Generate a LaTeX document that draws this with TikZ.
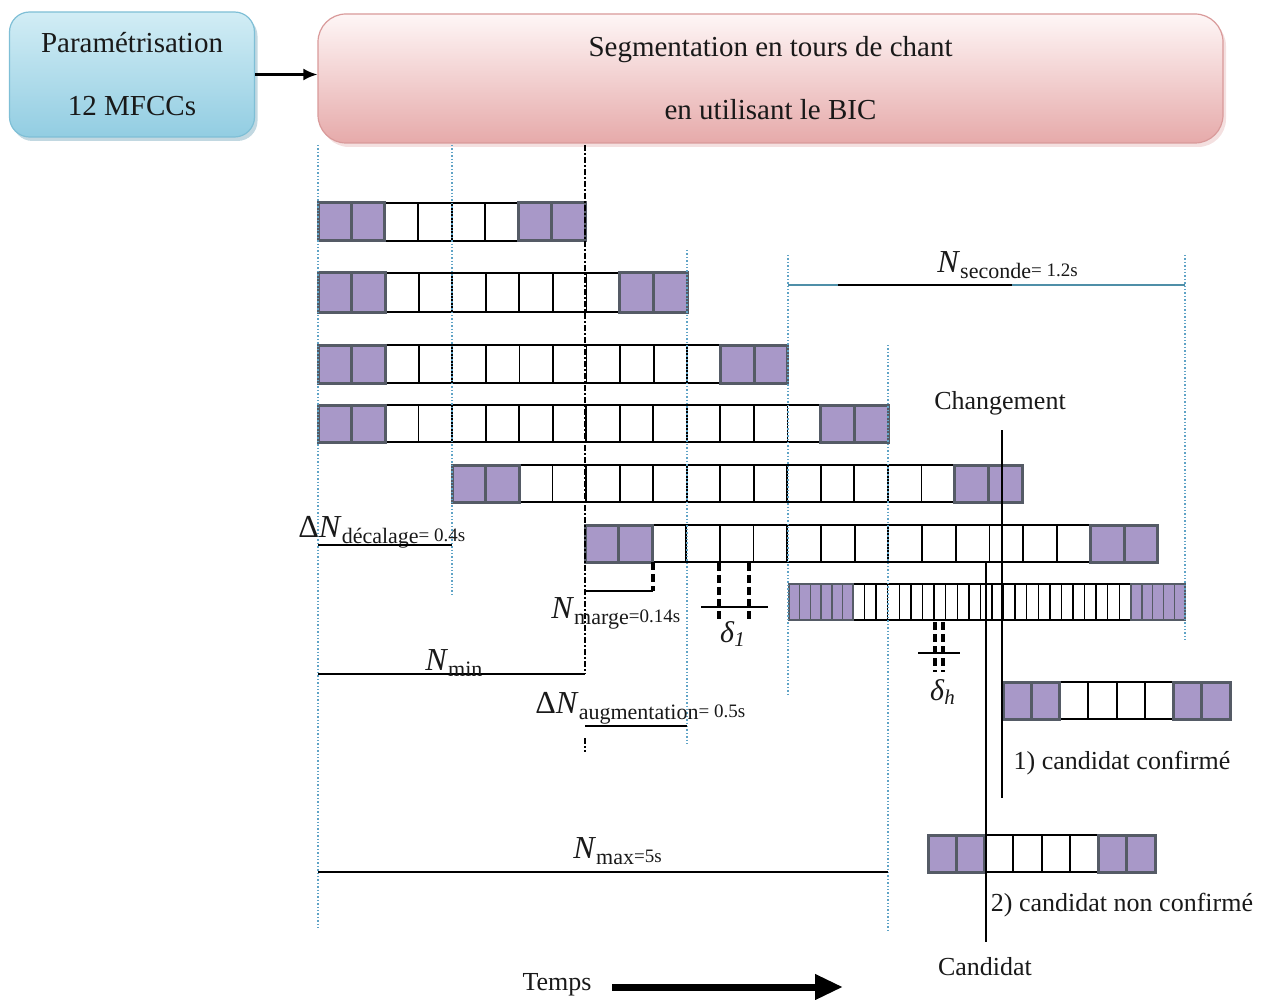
\documentclass[tikz,border=0pt]{standalone}
\usepackage{fontspec}
\setmainfont{Liberation Serif}
\usetikzlibrary{shadows,arrows.meta}
\definecolor{cellpurple}{HTML}{A898C8}
\definecolor{cellgrey}{HTML}{555B66}
\definecolor{guideblue}{HTML}{5FA3C6}
\definecolor{parTop}{HTML}{D2EDF5}
\definecolor{parBot}{HTML}{92CDE2}
\definecolor{parEdge}{HTML}{7FBFD6}
\definecolor{segTop}{HTML}{FEF6F6}
\definecolor{segBot}{HTML}{E6AAAA}
\definecolor{segEdge}{HTML}{D99A9A}
\definecolor{tealline}{HTML}{4F8FA8}
\newcommand{\cellrow}[5]{% x0, ytop, ybot, width, n white
  \pgfmathtruncatemacro{\lastw}{#5+1}
  \pgfmathtruncatemacro{\pa}{#5+2}
  \pgfmathtruncatemacro{\pb}{#5+3}
  \foreach \i in {2,...,\lastw}
    \draw[wcell] ({#1+\i*#4},#2) rectangle ({#1+(\i+1)*#4},#3);
  \foreach \i in {0,1,\pa,\pb}
    \draw[purp] ({#1+\i*#4},#2) rectangle ({#1+(\i+1)*#4},#3);
}
\newcommand{\Nlab}[3]{{\fontsize{16}{16}\selectfont #1}\raisebox{-3pt}{\fontsize{11}{11}\selectfont #2}\raisebox{-2pt}{\fontsize{9.5}{10}\selectfont #3}}
\begin{document}
\begin{tikzpicture}[x=0.5pt,y=-0.5pt,
  purp/.style={fill=cellpurple,draw=cellgrey,line width=1.5pt},
  wcell/.style={fill=white,draw=black,line width=0.9pt},
  guide/.style={draw=guideblue,line width=0.7pt,densely dotted},
  darkguide/.style={draw=black,line width=0.8pt,dash pattern=on 3pt off 1pt on 1pt off 1pt},
  meas/.style={draw=black,line width=0.8pt},
  thickdash/.style={draw=black,line width=1.6pt,dash pattern=on 4pt off 2pt},
  lab/.style={font=\fontsize{13}{15}\selectfont,inner sep=0pt,text=black!90},
  boxtext/.style={font=\fontsize{14.5}{31.5}\selectfont,align=center,text=black!90}]
\useasboundingbox (0,0) rectangle (1263,1000);

% top boxes
\node[boxtext,rounded corners=10pt,minimum width=122.5pt,minimum height=62.5pt,
  top color=parTop,bottom color=parBot,draw=parEdge,line width=0.6pt,
  drop shadow={shadow xshift=1.5pt,shadow yshift=-2pt,opacity=0.35,fill=tealline}]
  (param) at (132,74.5) {Paramétrisation\\12 MFCCs};
\node[boxtext,rounded corners=14pt,minimum width=452.5pt,minimum height=64.5pt,
  top color=segTop,bottom color=segBot,draw=segEdge,line width=0.6pt,
  drop shadow={shadow xshift=1.5pt,shadow yshift=-2pt,opacity=0.3,fill=segEdge}]
  (seg) at (770.5,78.5) {Segmentation en tours de chant\\en utilisant le BIC};
\draw[line width=1.2pt,-{Latex[length=7pt,width=6pt]}] (param.east) -- (param.east -| seg.west);

% rows of cells
\cellrow{318}{203}{241}{33.4}{4}
\cellrow{318}{273}{312}{33.55}{7}
\cellrow{318}{345}{383}{33.57}{10}
\cellrow{318}{405}{442}{33.53}{13}
\cellrow{452}{465}{502}{33.53}{13}
\cellrow{585}{525}{562}{33.7}{13}
\cellrow{1003}{682}{719}{28.4}{4}
\cellrow{928}{835}{872}{28.4}{4}

% fine row
\foreach \k in {0,...,23}
  \draw[wcell,line width=0.7pt] ({853+\k*11.58},584) rectangle ({853+(\k+1)*11.58},620);
\fill[cellpurple] (789,584) rectangle (853,620);
\foreach \k in {1,...,5} \draw[cellgrey,line width=0.7pt] ({789+\k*10.7},584) -- ({789+\k*10.7},620);
\draw[cellgrey,line width=1.4pt] (789,584) rectangle (853,620);
\fill[cellpurple] (1131,584) rectangle (1185,620);
\foreach \k in {1,...,4} \draw[cellgrey,line width=0.7pt] ({1131+\k*10.8},584) -- ({1131+\k*10.8},620);
\draw[cellgrey,line width=1.4pt] (1131,584) rectangle (1185,620);

% guide lines
\draw[guide] (318,145) -- (318,930);
\draw[guide] (452,145) -- (452,595);
\draw[darkguide] (585,145) -- (585,674);
\draw[darkguide] (585,738) -- (585,752);
\draw[guide] (687,250) -- (687,745);
\draw[guide] (788,255) -- (788,695);
\draw[guide] (888,345) -- (888,930);
\draw[guide] (1185,255) -- (1185,640);

% Changement / Candidat
\node[lab] (chg) at (1000,403) {Changement};
\coordinate (chgtop) at (1002,430);
\coordinate (chgbot) at (1002,798);
\draw[meas] (chgtop) -- (chgbot);
\node[lab] (cand) at (985,967) {Candidat};
\coordinate (candtop) at (986,563);
\coordinate (candbot) at (986,942);
\draw[meas] (candtop) -- (candbot);
\node[lab] (conf) at (1122,763) {1) candidat confirmé};
\node[lab] (nconf) at (1122,905) {2) candidat non confirmé};

% N seconde
\draw[tealline,line width=0.8pt] (788,285) -- (1185,285);
\draw[meas] (838,285) -- (1012,285);
\node[lab,anchor=base west] (nsec) at (937,272) {\Nlab{\textit{N}}{seconde}{= 1.2s}};

% Delta N decalage
\node[lab,anchor=base west] (ndec) at (298,537) {\Nlab{Δ\textit{N}}{décalage}{= 0.4s}};
\draw[meas] (318,545) -- (452,545);

% N marge
\draw[meas] (585,591) -- (653,591);
\draw[thickdash] (653,562) -- (653,591);
\node[lab,anchor=base west] (nmar) at (551,618) {\Nlab{\textit{N}}{marge}{=0.14s}};

% delta 1
\draw[thickdash] (719,563) -- (719,622);
\draw[thickdash] (749,563) -- (749,622);
\draw[meas] (701,607) -- (768,607);
\node[lab] (d1) at (733,634) {\fontsize{15}{15}\selectfont\textit{δ}\textsubscript{\textit{1}}};

% delta h
\draw[thickdash] (935,622) -- (935,672);
\draw[thickdash] (943,622) -- (943,672);
\draw[meas] (918,653) -- (960,653);
\node[lab] (dh) at (943,692) {\fontsize{15}{15}\selectfont\textit{δ}\textsubscript{\textit{h}}};

% N min
\draw[meas] (318,674) -- (585,674);
\node[lab,anchor=base west] (nmin) at (425,670) {\Nlab{\textit{N}}{min}{}};

% Delta N augmentation
\node[lab,anchor=base west] (naug) at (535,713) {\Nlab{Δ\textit{N}}{augmentation}{= 0.5s}};
\draw[meas] (585,726) -- (687,726);

% N max
\draw[meas] (318,872) -- (888,872);
\node[lab,anchor=base west] (nmax) at (573,858) {\Nlab{\textit{N}}{max}{=5s}};

% Temps
\node[lab] (temps) at (557,985) {Temps};
\coordinate (ta) at (612,987);
\coordinate (tb) at (843,987);
\draw[line width=3.5pt,-{Triangle[length=14pt,width=12pt]}] (ta) -- (tb);
\end{tikzpicture}
\end{document}
